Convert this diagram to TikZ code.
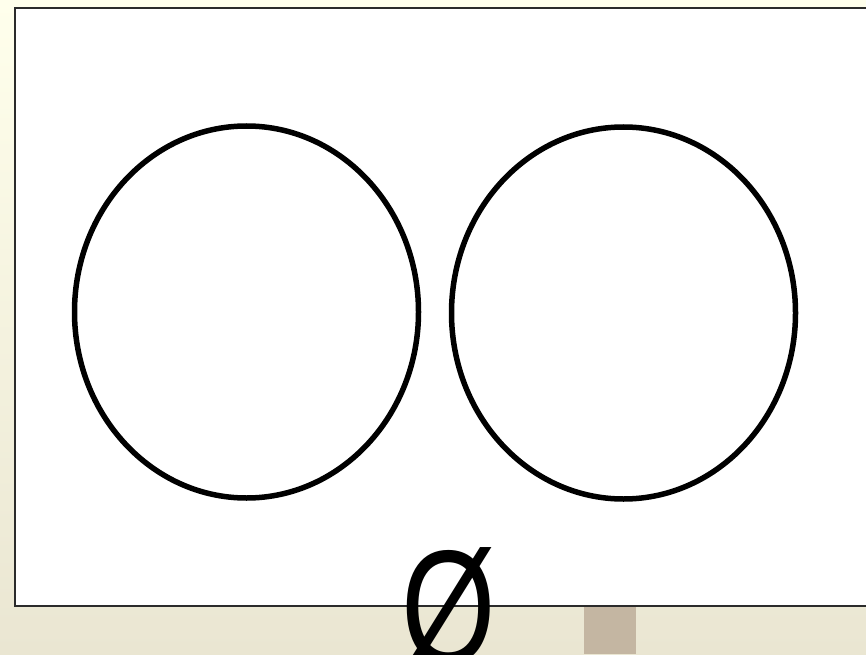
\documentclass[tikz,border=0pt]{standalone}
\usepackage{fontspec}
\setmainfont{Liberation Sans}
\usetikzlibrary{shapes.geometric,positioning}
\definecolor{slidetop}{HTML}{FFFFEC}
\definecolor{slidebottom}{HTML}{EAE6D2}
\definecolor{slideframe}{HTML}{2B2B2B}
\definecolor{slidetab}{HTML}{C4B6A2}

\begin{document}
\begin{tikzpicture}[
  x=1pt,y=1pt,
  setring/.style={ellipse,draw=black,line width=5.5pt,inner sep=0pt,
    minimum width=344pt,minimum height=372pt},
  panel/.style={draw=slideframe,fill=white,line width=2pt},
  bigsym/.style={font=\fontsize{162}{162}\selectfont,inner sep=0pt,anchor=base,xscale=0.75}
]
\clip (0,0) rectangle (866,654);
\shade[top color=slidetop,bottom color=slidebottom] (0,0) rectangle (866,654);
\fill[slidetab] (584,0) rectangle (636,48);
\draw[panel] (15,48) rectangle (880,646);
\node[setring] (setA) at (246.5,342) {};
\node[setring] (setB) at (623.5,341) {};
\node[bigsym] (empty) at (448.5,-9) {Ø};
\end{tikzpicture}
\end{document}
